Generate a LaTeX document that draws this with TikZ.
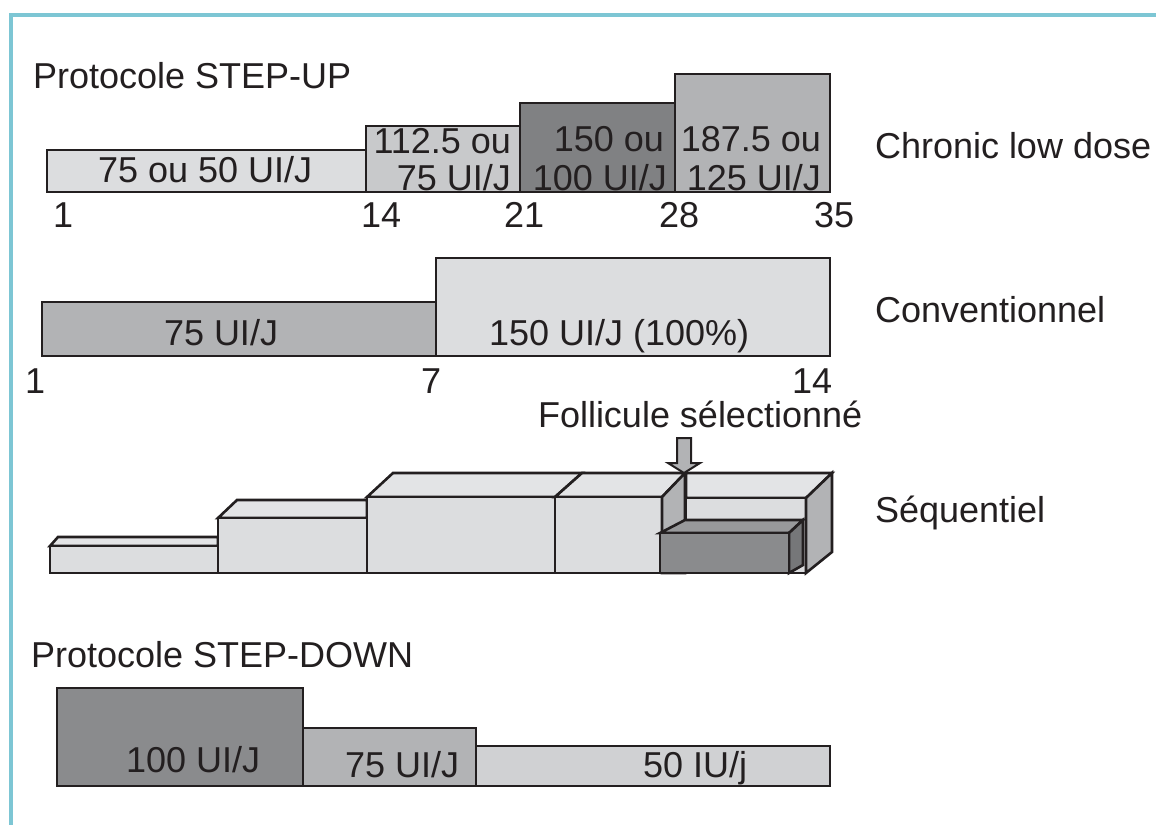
\documentclass[tikz,border=0pt]{standalone}
\usepackage{fontspec}
\setmainfont{Liberation Sans}
\definecolor{ink}{RGB}{35,31,32}
\definecolor{fl}{RGB}{220,221,223}
\definecolor{ft}{RGB}{227,228,230}
\definecolor{fb}{RGB}{200,201,203}
\definecolor{fm}{RGB}{178,179,181}
\definecolor{fd}{RGB}{128,129,131}
\definecolor{fdd}{RGB}{138,139,141}
\definecolor{fdt}{RGB}{152,153,155}
\definecolor{fdr}{RGB}{118,119,121}
\definecolor{fs}{RGB}{208,209,211}
\definecolor{framec}{RGB}{125,198,212}
\begin{document}
\begin{tikzpicture}[x=1pt,y=-1pt,
 bar/.style={draw=ink,line width=2.6pt,line join=miter},
 lbl/.style={anchor=base west,inner sep=0pt,outer sep=0pt,text=ink,font=\fontsize{36}{43}\selectfont},
 lble/.style={lbl,anchor=base east},
 ]
\useasboundingbox (0,0) rectangle (1156,825);
\fill[white] (0,0) rectangle (1156,825);
\draw[framec,line width=3.5pt] (1156,15) -- (11,15) -- (11,825);

% ---------- STEP-UP / chronic low dose
\node[lbl] (su) at (33,88) {Protocole STEP-UP};
\draw[bar,fill=fl] (47,150) rectangle (366,192);
\draw[bar,fill=fb] (366,126) rectangle (520,192);
\draw[bar,fill=fd] (520,103) rectangle (675,192);
\draw[bar,fill=fm] (675,74) rectangle (830,192);
\node[lbl] (a1) at (98,182) {75 ou 50 UI/J};
\node[lble] (a2) at (511,153) {112.5 ou};
\node[lble] (a3) at (511,190) {75 UI/J};
\node[lble] (a4) at (664,151) {150 ou};
\node[lble] (a5) at (667,190) {100 UI/J};
\node[lble] (a6) at (821,151) {187.5 ou};
\node[lble] (a7) at (821,190) {125 UI/J};
\node[lbl] (n1) at (53,227) {1};
\node[lbl] (n14) at (361,227) {14};
\node[lbl] (n21) at (504,227) {21};
\node[lbl] (n28) at (659,227) {28};
\node[lbl] (n35) at (814,227) {35};
\node[lbl] (cld) at (875,158) {Chronic low dose};

% ---------- Conventionnel
\draw[bar,fill=fm] (42,302) rectangle (436,356);
\draw[bar,fill=fl] (436,258) rectangle (830,356);
\node[lbl] (b1) at (164,345) {75 UI/J};
\node[lbl] (b2) at (489,345) {150 UI/J (100\%)};
\node[lbl] (m1) at (25,393) {1};
\node[lbl] (m7) at (421,393) {7};
\node[lbl] (m14) at (792,393) {14};
\node[lbl] (conv) at (875,322) {Conventionnel};

% ---------- Sequentiel
\node[lbl] (fol) at (538,427) {Follicule sélectionné};
% box 5 (behind)
\draw[bar,fill=ft] (686,498) -- (686,473) -- (832,473) -- (806,498) -- cycle;
\draw[bar,fill=fl] (686,498) rectangle (806,573);
\draw[bar,fill=fm] (806,498) -- (832,473) -- (832,552) -- (806,573) -- cycle;
% box 1
\draw[bar,fill=ft] (50,546) -- (58,537) -- (218,537) -- (218,546) -- cycle;
\draw[bar,fill=fl] (50,546) rectangle (218,573);
% box 2
\draw[bar,fill=ft] (218,518) -- (237,500) -- (367,500) -- (367,518) -- cycle;
\draw[bar,fill=fl] (218,518) rectangle (367,573);
% box 3
\draw[bar,fill=ft] (367,497) -- (393,473) -- (582,473) -- (555,497) -- cycle;
\draw[bar,fill=fl] (367,497) rectangle (555,573);
% box 4
\draw[bar,fill=ft] (555,497) -- (582,473) -- (685,473) -- (662,497) -- cycle;
\draw[bar,fill=fl] (555,497) rectangle (662,573);
\draw[bar,fill=fm] (662,497) -- (685,473) -- (685,573) -- (662,573) -- cycle;
% dark box
\draw[bar,fill=fdt] (660,533) -- (685,520) -- (803,520) -- (789,533) -- cycle;
\draw[bar,fill=fdr] (789,533) -- (803,520) -- (803,565) -- (789,573) -- cycle;
\draw[bar,fill=fdd] (660,533) rectangle (789,573);
% arrow
\draw[draw=ink,line width=2pt,fill=fm,line join=miter] (677,438) -- (691,438) -- (691,463) -- (700,463) -- (684,473) -- (668,463) -- (677,463) -- cycle;
\node[lbl] (seq) at (875,522) {Séquentiel};

% ---------- STEP-DOWN
\node[lbl] (sd) at (31,667) {Protocole STEP-DOWN};
\draw[bar,fill=fdd] (57,688) rectangle (303,786);
\draw[bar,fill=fm] (303,728) rectangle (476,786);
\draw[bar,fill=fs] (476,746) rectangle (830,786);
\node[lbl] (c1) at (126,772) {100 UI/J};
\node[lbl] (c2) at (345,777) {75 UI/J};
\node[lbl] (c3) at (643,777) {50 IU/j};
\end{tikzpicture}
\end{document}
